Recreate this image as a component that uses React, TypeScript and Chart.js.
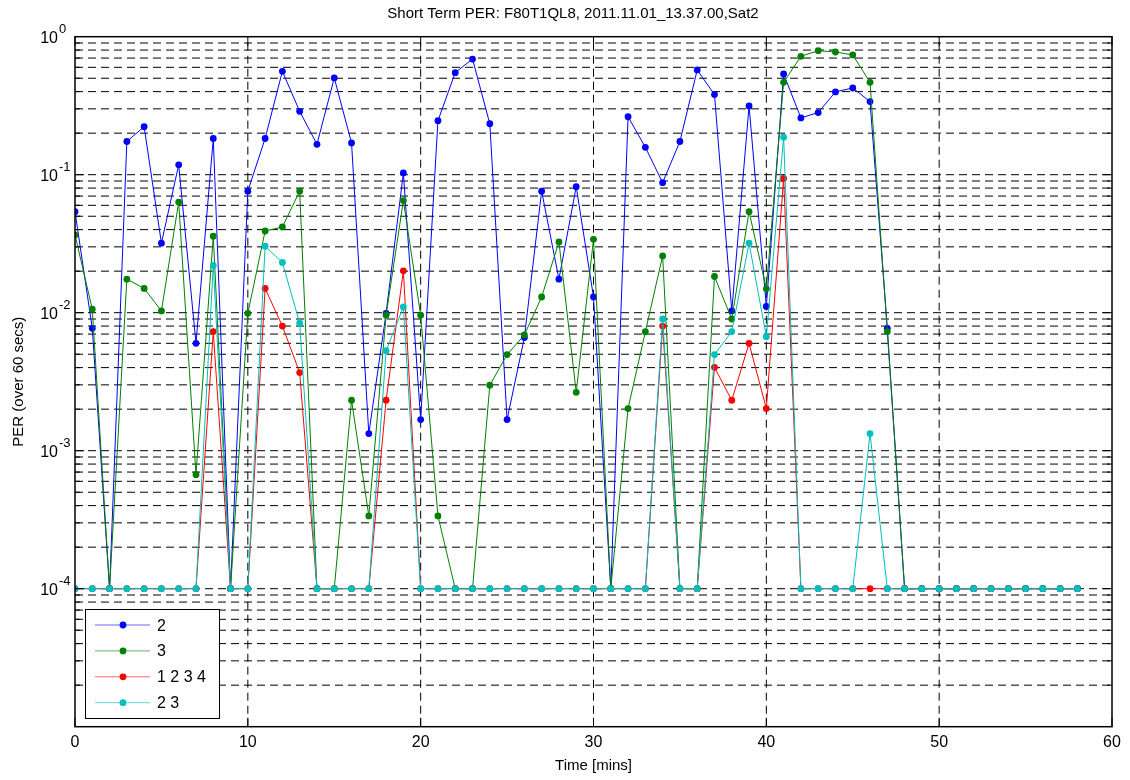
import React, { useEffect, useRef } from "react";
import { Chart, registerables } from "chart.js";

Chart.register(...registerables);

// ---------- data ----------
const minutes = [
  0, 1, 2, 3, 4, 5, 6, 7, 8, 9, 10, 11, 12, 13, 14, 15, 16, 17, 18, 19,
  20, 21, 22, 23, 24, 25, 26, 27, 28, 29, 30, 31, 32, 33, 34, 35, 36, 37, 38, 39,
  40, 41, 42, 43, 44, 45, 46, 47, 48, 49, 50, 51, 52, 53, 54, 55, 56, 57, 58,
];

const per2 = [
  0.054, 0.0077, 1e-4, 0.174, 0.223, 0.0319, 0.118, 0.006, 0.183, 1e-4,
  0.076, 0.183, 0.561, 0.288, 0.166, 0.503, 0.17, 0.00133, 0.0099, 0.103,
  0.00168, 0.246, 0.549, 0.689, 0.234, 0.00168, 0.0066, 0.076, 0.0175, 0.0819,
  0.013, 1e-4, 0.263, 0.158, 0.0875, 0.174, 0.574, 0.381, 0.0103, 0.315,
  0.0111, 0.537, 0.258, 0.282, 0.398, 0.425, 0.339, 0.0077, 1e-4, 1e-4,
  1e-4, 1e-4, 1e-4, 1e-4, 1e-4, 1e-4, 1e-4, 1e-4, 1e-4,
];

const per3 = [
  0.0366, 0.0106, 1e-4, 0.0175, 0.015, 0.0103, 0.0633, 0.00067, 0.0358, 1e-4,
  0.0099, 0.0391, 0.0418, 0.076, 1e-4, 1e-4, 0.00232, 0.000337, 0.0096, 0.0649,
  0.0096, 0.000337, 1e-4, 1e-4, 0.00298, 0.00497, 0.0069, 0.013, 0.0326, 0.00265,
  0.034, 1e-4, 0.00202, 0.00728, 0.0258, 1e-4, 1e-4, 0.0183, 0.009, 0.054,
  0.0149, 0.467, 0.721, 0.792, 0.775, 0.738, 0.467, 0.0073, 1e-4, 1e-4,
  1e-4, 1e-4, 1e-4, 1e-4, 1e-4, 1e-4, 1e-4, 1e-4, 1e-4,
];

const per1234 = [
  1e-4, 1e-4, 1e-4, 1e-4, 1e-4, 1e-4, 1e-4, 1e-4, 0.0073, 1e-4,
  1e-4, 0.015, 0.008, 0.00368, 1e-4, 1e-4, 1e-4, 1e-4, 0.00232, 0.0201,
  1e-4, 1e-4, 1e-4, 1e-4, 1e-4, 1e-4, 1e-4, 1e-4, 1e-4, 1e-4,
  1e-4, 1e-4, 1e-4, 1e-4, 0.008, 1e-4, 1e-4, 0.00402, 0.00232, 0.006,
  0.00202, 0.094, 1e-4, 1e-4, 1e-4, 1e-4, 1e-4, 1e-4, 1e-4, 1e-4,
  1e-4, 1e-4, 1e-4, 1e-4, 1e-4, 1e-4, 1e-4, 1e-4, 1e-4,
];

const per23 = [
  1e-4, 1e-4, 1e-4, 1e-4, 1e-4, 1e-4, 1e-4, 1e-4, 0.022, 1e-4,
  1e-4, 0.0303, 0.0231, 0.0084, 1e-4, 1e-4, 1e-4, 1e-4, 0.0053, 0.011,
  1e-4, 1e-4, 1e-4, 1e-4, 1e-4, 1e-4, 1e-4, 1e-4, 1e-4, 1e-4,
  1e-4, 1e-4, 1e-4, 1e-4, 0.009, 1e-4, 1e-4, 0.00497, 0.0073, 0.0319,
  0.0067, 0.187, 1e-4, 1e-4, 1e-4, 1e-4, 0.00133, 1e-4, 1e-4, 1e-4,
  1e-4, 1e-4, 1e-4, 1e-4, 1e-4, 1e-4, 1e-4, 1e-4, 1e-4,
];

const seriesLabels = ["2", "3", "1 2 3 4", "2 3"];
const seriesColors = ["#0000ff", "#008000", "#ff0000", "#00bfbf"];

const xTicks = [0, 10, 20, 30, 40, 50, 60];
const yDecadeExponents = [0, -1, -2, -3, -4];
const yMinorMultipliers = [1, 2, 3, 4, 5, 6, 7, 8, 9];
const yGridExponents = [-5, -4, -3, -2, -1];

const titleText = "Short Term PER: F80T1QL8, 2011.11.01_13.37.00,Sat2";
const xTitle = "Time [mins]";
const yTitle = "PER (over 60 secs)";

const FONT = '"Liberation Sans", Arial, Helvetica, sans-serif';

const matlabPlugin = {
  id: "matlabLook",
  beforeDatasetsDraw(chart: any) {
    const { ctx, chartArea: a, scales } = chart;
    const x = scales.x;
    const y = scales.y;
    ctx.save();
    ctx.strokeStyle = "#000";
    ctx.lineWidth = 1;
    ctx.setLineDash([8, 5]);
    for (const e of yGridExponents) {
      for (const m of yMinorMultipliers) {
        if (e === -5 && m === 1) continue;
        const py = y.getPixelForValue(m * Math.pow(10, e));
        ctx.beginPath();
        ctx.moveTo(a.left, py);
        ctx.lineTo(a.right, py);
        ctx.stroke();
      }
    }
    for (const t of xTicks) {
      if (t === xTicks[0] || t === xTicks[xTicks.length - 1]) continue;
      const px = x.getPixelForValue(t);
      ctx.beginPath();
      ctx.moveTo(px, a.bottom);
      ctx.lineTo(px, a.top);
      ctx.stroke();
    }
    ctx.restore();
  },
  afterDatasetsDraw(chart: any) {
    const { ctx, chartArea: a, scales } = chart;
    const x = scales.x;
    const y = scales.y;
    ctx.save();
    ctx.setLineDash([]);
    ctx.strokeStyle = "#000";

    // ticks
    ctx.lineWidth = 1;
    for (const e of yGridExponents) {
      for (const m of yMinorMultipliers) {
        if (e === -5 && m === 1) continue;
        const py = y.getPixelForValue(m * Math.pow(10, e));
        const len = m === 1 ? 9 : 5;
        ctx.beginPath();
        ctx.moveTo(a.left, py);
        ctx.lineTo(a.left + len, py);
        ctx.moveTo(a.right, py);
        ctx.lineTo(a.right - len, py);
        ctx.stroke();
      }
    }
    for (const t of xTicks) {
      const px = x.getPixelForValue(t);
      ctx.beginPath();
      ctx.moveTo(px, a.bottom);
      ctx.lineTo(px, a.bottom - 9);
      ctx.moveTo(px, a.top);
      ctx.lineTo(px, a.top + 9);
      ctx.stroke();
    }

    // box
    ctx.lineWidth = 1.5;
    ctx.strokeRect(a.left, a.top, a.right - a.left, a.bottom - a.top);

    // x tick labels
    ctx.fillStyle = "#000";
    ctx.font = `16px ${FONT}`;
    ctx.textAlign = "center";
    ctx.textBaseline = "alphabetic";
    for (const t of xTicks) {
      ctx.fillText(String(t), x.getPixelForValue(t), a.bottom + 20);
    }

    // y tick labels with superscripts
    for (const e of yDecadeExponents) {
      const py = y.getPixelForValue(Math.pow(10, e));
      ctx.font = `16px ${FONT}`;
      ctx.textAlign = "right";
      ctx.fillText("10", a.left - 17, py + 6);
      ctx.font = `13px ${FONT}`;
      ctx.textAlign = "left";
      ctx.fillText(String(e), a.left - 16, py - 3.5);
    }

    // titles
    ctx.font = `15px ${FONT}`;
    ctx.textAlign = "center";
    ctx.fillText(titleText, 573, 18);
    ctx.fillText(xTitle, (a.left + a.right) / 2, 770);
    ctx.save();
    ctx.translate(23, (a.top + a.bottom) / 2);
    ctx.rotate(-Math.PI / 2);
    ctx.fillText(yTitle, 0, 0);
    ctx.restore();

    // legend inside axes (bottom-left)
    const lx = a.left + 10;
    const ly = 609.5;
    const lw = 134;
    const lh = 109;
    ctx.fillStyle = "#fff";
    ctx.fillRect(lx, ly, lw, lh);
    ctx.lineWidth = 1;
    ctx.strokeStyle = "#000";
    ctx.strokeRect(lx + 0.5, ly, lw, lh);
    chart.data.datasets.forEach((ds: any, i: number) => {
      const ry = 625 + i * 25.9;
      ctx.strokeStyle = ds.borderColor;
      ctx.globalAlpha = 0.6;
      ctx.lineWidth = 1;
      ctx.beginPath();
      ctx.moveTo(lx + 10, ry);
      ctx.lineTo(lx + 65, ry);
      ctx.stroke();
      ctx.globalAlpha = 1;
      ctx.fillStyle = ds.borderColor;
      ctx.beginPath();
      ctx.arc(lx + 38, ry, 3.4, 0, Math.PI * 2);
      ctx.fill();
      ctx.fillStyle = "#000";
      ctx.font = `16px ${FONT}`;
      ctx.textAlign = "left";
      ctx.fillText(ds.label, lx + 72, ry + 5.5);
    });

    ctx.restore();
  },
};

export default function App() {
  const canvasRef = useRef<HTMLCanvasElement | null>(null);

  useEffect(() => {
    const canvas = canvasRef.current;
    if (!canvas) return;
    const seriesValues = [per2, per3, per1234, per23];
    const datasets = seriesValues.map((vals, i) => ({
      label: seriesLabels[i],
      data: minutes.map((m, j) => ({ x: m, y: vals[j] })),
      borderColor: seriesColors[i],
      backgroundColor: seriesColors[i],
      pointBackgroundColor: seriesColors[i],
      pointBorderColor: seriesColors[i],
      pointBorderWidth: 0,
      pointRadius: 3.4,
      borderWidth: 1,
      tension: 0,
      order: seriesValues.length - i,
    }));

    const chart = new Chart(canvas, {
      type: "line",
      data: { datasets },
      options: {
        animation: false,
        responsive: false,
        devicePixelRatio: 1,
        layout: { padding: { left: 75, right: 18, top: 36.7, bottom: 53.3 } },
        plugins: {
          legend: { display: false },
          title: { display: false },
          tooltip: { enabled: false },
        },
        scales: {
          x: { type: "linear", min: 0, max: 60, display: false },
          y: { type: "logarithmic", min: 1e-5, max: 1, display: false },
        },
      },
      plugins: [matlabPlugin],
    });
    return () => chart.destroy();
  }, []);

  return (
    <div style={{ position: "fixed", left: 0, top: 0, width: 1130, height: 780, background: "#fff" }}>
      <canvas ref={canvasRef} width={1130} height={780} style={{ width: 1130, height: 780 }} />
    </div>
  );
}
